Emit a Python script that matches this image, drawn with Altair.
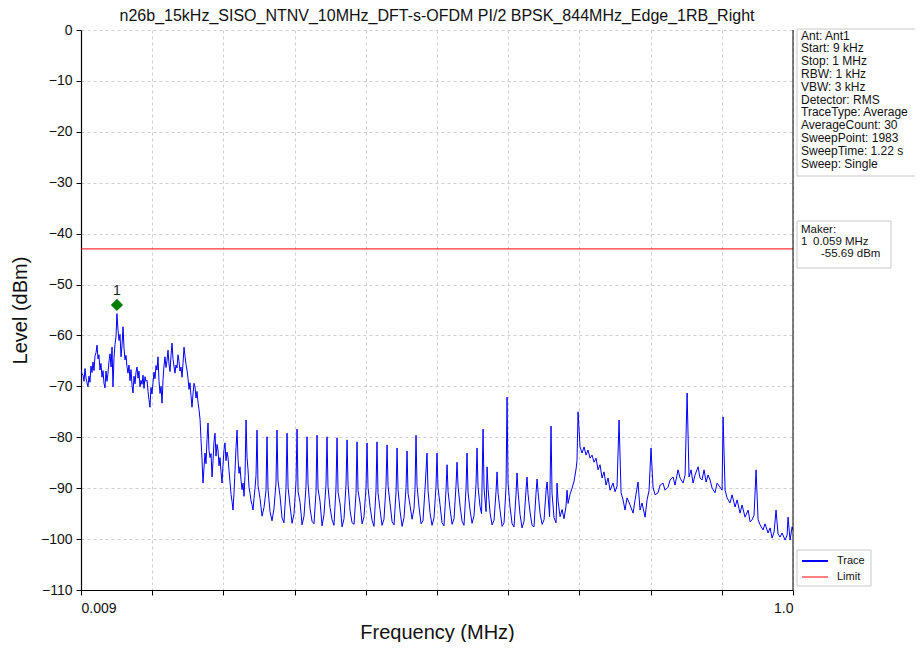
import altair as alt
import pandas as pd

chart_title = "n26b_15kHz_SISO_NTNV_10MHz_DFT-s-OFDM PI/2 BPSK_844MHz_Edge_1RB_Right"

# ---- trace (frequency in MHz, level in dBm) ----
freq_mhz = [
    0.0090, 0.0104, 0.0118, 0.0132, 0.0146, 0.0160, 0.0187, 0.0201, 0.0215, 0.0229,
    0.0243, 0.0257, 0.0271, 0.0285, 0.0299, 0.0313, 0.0327, 0.0340, 0.0354, 0.0368,
    0.0382, 0.0396, 0.0410, 0.0424, 0.0438, 0.0452, 0.0466, 0.0480, 0.0494, 0.0508,
    0.0522, 0.0535, 0.0549, 0.0563, 0.0577, 0.0590, 0.0605, 0.0619, 0.0633, 0.0647,
    0.0661, 0.0675, 0.0689, 0.0702, 0.0716, 0.0730, 0.0744, 0.0758, 0.0772, 0.0786,
    0.0800, 0.0814, 0.0828, 0.0842, 0.0856, 0.0870, 0.0884, 0.0897, 0.0911, 0.0925,
    0.0939, 0.0953, 0.0967, 0.0981, 0.0995, 0.1009, 0.1023, 0.1036, 0.1050, 0.1064,
    0.1078, 0.1092, 0.1106, 0.1120, 0.1134, 0.1148, 0.1162, 0.1176, 0.1190, 0.1204,
    0.1218, 0.1232, 0.1245, 0.1259, 0.1273, 0.1287, 0.1301, 0.1315, 0.1329, 0.1343,
    0.1357, 0.1371, 0.1384, 0.1398, 0.1412, 0.1426, 0.1440, 0.1454, 0.1468, 0.1482,
    0.1496, 0.1510, 0.1524, 0.1538, 0.1552, 0.1566, 0.1580, 0.1593, 0.1607, 0.1621,
    0.1635, 0.1649, 0.1663, 0.1677, 0.1691, 0.1705, 0.1719, 0.1733, 0.1747, 0.1760,
    0.1774, 0.1788, 0.1802, 0.1816, 0.1830, 0.1844, 0.1858, 0.1872, 0.1886, 0.1900,
    0.1914, 0.1928, 0.1941, 0.1955, 0.1969, 0.1983, 0.1997, 0.2011, 0.2025, 0.2039,
    0.2053, 0.2067, 0.2081, 0.2094, 0.2108, 0.2122, 0.2136, 0.2150, 0.2164, 0.2178,
    0.2192, 0.2206, 0.2220, 0.2234, 0.2248, 0.2262, 0.2276, 0.2290, 0.2303, 0.2317,
    0.2331, 0.2345, 0.2359, 0.2373, 0.2387, 0.2401, 0.2415, 0.2429, 0.2443, 0.2457,
    0.2470, 0.2484, 0.2498, 0.2512, 0.2526,
    0.2540, 0.2554, 0.2582, 0.2610, 0.2637, 0.2665,
    0.2679, 0.2693, 0.2721, 0.2749, 0.2776, 0.2804,
    0.2818, 0.2832, 0.2860, 0.2888, 0.2915, 0.2943,
    0.2958, 0.2972, 0.3000, 0.3028, 0.3055, 0.3083,
    0.3097, 0.3111, 0.3139, 0.3167, 0.3194, 0.3222,
    0.3236, 0.3250, 0.3278, 0.3306, 0.3333, 0.3361,
    0.3375, 0.3389, 0.3417, 0.3445, 0.3472, 0.3500,
    0.3514, 0.3528, 0.3556, 0.3584, 0.3611, 0.3639,
    0.3654, 0.3668, 0.3696, 0.3724, 0.3751, 0.3779,
    0.3793, 0.3807, 0.3835, 0.3863, 0.3890, 0.3918,
    0.3932, 0.3946, 0.3974, 0.4002, 0.4029, 0.4057,
    0.4071, 0.4085, 0.4113, 0.4141, 0.4168, 0.4196,
    0.4210, 0.4224, 0.4252, 0.4280, 0.4307, 0.4335,
    0.4350, 0.4364, 0.4392, 0.4420, 0.4447, 0.4475,
    0.4489, 0.4503, 0.4531, 0.4559, 0.4586, 0.4614,
    0.4628, 0.4642, 0.4670, 0.4698, 0.4725, 0.4739,
    0.4753, 0.4767, 0.4795, 0.4823, 0.4850, 0.4878,
    0.4906, 0.4920, 0.4948, 0.4976, 0.5003, 0.5031,
    0.5045, 0.5059, 0.5087, 0.5115, 0.5142, 0.5170,
    0.5185, 0.5199, 0.5227, 0.5255, 0.5282, 0.5310,
    0.5324, 0.5338, 0.5366, 0.5394, 0.5421, 0.5449,
    0.5463, 0.5477, 0.5505, 0.5533, 0.5560, 0.5588,
    0.5602, 0.5616, 0.5644, 0.5665, 0.5686, 0.5700, 0.5728,
    0.5742, 0.5756, 0.5784, 0.5812, 0.5839, 0.5867,
    0.5881, 0.5895, 0.5923, 0.5951, 0.5978, 0.6006,
    0.6020, 0.6034, 0.6062, 0.6090, 0.6117, 0.6145,
    0.6159, 0.6173, 0.6201, 0.6229, 0.6256, 0.6284,
    0.6298, 0.6312, 0.6340, 0.6368, 0.6395, 0.6423,
    0.6438, 0.6452, 0.6480, 0.6508, 0.6535, 0.6563,
    0.6577, 0.6591, 0.6612, 0.6632, 0.6646, 0.6674, 0.6702,
    0.6716, 0.6730, 0.6758, 0.6786, 0.6813, 0.6841,
    0.6855, 0.6869, 0.6897, 0.6925, 0.6953, 0.6981, 0.6994,
    0.7008, 0.7036, 0.7064, 0.7092, 0.7120, 0.7147, 0.7175, 0.7203, 0.7231, 0.7259,
    0.7287, 0.7314, 0.7342, 0.7370, 0.7398, 0.7426, 0.7454, 0.7495, 0.7523, 0.7551,
    0.7579, 0.7607, 0.7635, 0.7662, 0.7690, 0.7732, 0.7774, 0.7802, 0.7843, 0.7871,
    0.7899, 0.7941, 0.7969, 0.7997, 0.8024, 0.8052, 0.8080, 0.8122, 0.8150, 0.8191,
    0.8219, 0.8261, 0.8289, 0.8331, 0.8358, 0.8400, 0.8428, 0.8470, 0.8498, 0.8526,
    0.8553, 0.8581, 0.8609, 0.8637, 0.8679, 0.8706, 0.8734, 0.8762, 0.8790, 0.8818,
    0.8846, 0.8874, 0.8915, 0.8943, 0.8985, 0.9013, 0.9027, 0.9055, 0.9082, 0.9124,
    0.9152, 0.9194, 0.9222, 0.9263, 0.9291, 0.9333, 0.9375, 0.9403, 0.9430, 0.9458,
    0.9486, 0.9514, 0.9542, 0.9583, 0.9611, 0.9653, 0.9681, 0.9709, 0.9737, 0.9764,
    0.9792, 0.9820, 0.9848, 0.9890, 0.9918, 0.9931, 0.9959, 0.9987, 1.0000,
]

level_dbm = [
    -66.8, -67.5, -67.8, -69.0, -66.5, -68.4, -70.1, -68.0, -69.2, -66.0,
    -67.3, -65.2, -66.9, -64.0, -63.4, -61.9, -64.6, -63.8, -66.8, -65.5,
    -68.2, -66.9, -69.4, -70.3, -67.0, -69.0, -67.4, -65.0, -63.6, -66.2,
    -62.3, -70.1, -64.5, -61.8, -60.3, -55.7, -58.9, -61.0, -59.8, -64.2,
    -62.0, -58.3, -62.5, -64.8, -63.9, -66.1, -67.4, -65.8, -68.9, -66.7,
    -69.8, -71.3, -68.0, -69.5, -67.2, -66.2, -68.4, -67.0, -70.1, -68.8,
    -69.6, -67.8, -70.4, -68.1, -69.0, -68.8, -71.0, -72.6, -74.1, -70.2,
    -71.5, -69.3, -67.2, -68.5, -65.9, -66.8, -64.2, -69.0, -71.4, -70.0,
    -73.3, -68.6, -66.0, -64.2, -66.3, -65.0, -62.9, -65.6, -67.1, -63.9,
    -61.5, -64.7, -66.0, -67.4, -65.8, -66.4, -63.8, -65.1, -67.0, -66.2,
    -68.2, -65.5, -62.3, -64.1, -65.7, -66.8, -68.5, -70.6, -69.3, -71.8,
    -74.1, -71.5, -69.4, -70.1, -72.3, -71.0, -73.2, -74.6, -76.5, -80.3,
    -84.1, -89.0, -86.0, -83.1, -85.2, -80.4, -77.2, -82.6, -84.0, -83.2,
    -87.8, -84.5, -80.9, -79.2, -83.7, -81.4, -82.5, -85.6, -84.0, -86.8,
    -89.0, -85.3, -82.4, -81.1, -84.6, -82.9, -83.9, -86.5, -88.7, -91.2,
    -92.6, -94.3, -90.8, -86.4, -82.0, -78.6, -84.3, -87.1, -85.8, -88.4,
    -90.3, -89.0, -91.6, -87.5, -76.6, -84.0, -86.4, -89.9, -91.0, -92.5,
    -93.2, -94.3, -92.0, -90.0, -87.5,
    -78.6, -89.5, -92.0, -95.5, -93.8, -90.5,
    -79.9, -90.2, -94.6, -96.4, -94.0, -89.0,
    -78.6, -88.6, -91.5, -95.8, -96.8, -90.2,
    -79.2, -89.8, -93.5, -96.9, -95.0, -88.7,
    -78.4, -90.6, -92.8, -97.2, -95.5, -89.6,
    -79.9, -89.2, -94.0, -96.5, -97.0, -90.8,
    -79.6, -90.1, -92.6, -97.4, -95.2, -89.4,
    -79.9, -89.7, -93.8, -96.2, -97.3, -90.0,
    -80.1, -90.8, -93.1, -97.6, -96.0, -89.2,
    -80.5, -89.4, -94.4, -96.8, -97.1, -91.0,
    -80.9, -90.5, -92.9, -97.0, -95.6, -89.8,
    -81.1, -89.9, -93.6, -96.3, -97.5, -90.4,
    -80.9, -90.9, -94.2, -97.3, -96.1, -89.5,
    -81.5, -89.6, -93.0, -96.6, -97.2, -90.7,
    -82.1, -90.3, -94.5, -97.5, -95.8, -89.9,
    -82.7, -91.0, -93.4, -96.1, -94.0, -90.3,
    -79.6, -89.5, -93.7, -97.0, -96.4, -90.2,
    -83.1, -90.4, -94.8, -97.3, -95.9, -89.7,
    -83.1, -89.9, -93.2, -96.8, -97.4, -90.5,
    -85.4, -90.7, -94.1, -97.1, -96.0, -89.4,
    -84.9, -89.6, -93.5, -96.5, -97.3, -90.1,
    -83.1, -90.8, -94.3, -96.9, -95.4, -89.3,
    -82.1, -89.7, -93.6, -95.0, -78.4, -90.1, -94.6,
    -85.8, -90.2, -94.9, -97.2, -96.3, -90.6,
    -86.8, -91.0, -94.4, -97.5, -96.8, -89.8,
    -72.1, -89.0, -93.7, -97.0, -97.6, -91.2,
    -87.0, -90.6, -95.2, -97.8, -96.5, -90.3,
    -87.8, -91.1, -94.7, -97.3, -97.6, -91.0,
    -88.2, -90.8, -95.0, -97.1, -96.2, -90.5,
    -88.8, -91.5, -95.6, -77.8, -91.0, -95.8, -96.8,
    -89.0, -92.5, -95.6, -94.2, -96.0, -93.5,
    -90.4, -93.0, -91.2, -90.0, -88.6, -86.2, -84.5,
    -75.0, -81.9, -83.1, -81.9, -83.5, -82.5, -84.1, -83.5, -84.9, -84.1,
    -86.4, -85.4, -88.0, -86.8, -89.4, -88.0, -90.4, -89.0, -90.7, -89.6,
    -76.6, -90.9, -92.3, -94.3, -91.9, -93.3, -94.9, -92.3, -88.8, -94.3,
    -92.9, -95.7, -92.3, -90.4, -82.1, -89.8, -91.3, -90.9, -89.4, -89.0,
    -90.4, -89.8, -88.4, -87.8, -89.4, -86.4, -88.0, -89.0, -87.4, -71.3,
    -87.8, -86.4, -89.0, -87.4, -85.8, -88.0, -88.4, -86.4, -88.8, -87.4,
    -88.4, -90.0, -90.9, -89.0, -89.8, -90.4, -76.0, -90.4, -91.9, -92.9,
    -91.3, -93.7, -92.3, -94.9, -93.3, -95.7, -94.3, -96.6, -96.2, -95.3,
    -86.4, -96.2, -97.2, -98.2, -97.0, -98.8, -97.8, -99.8, -98.6, -94.3,
    -99.0, -99.6, -98.8, -100.2, -99.2, -95.7, -100.2, -97.6, -98.2,
]

limit_freq = [0.009, 1.0]
limit_level = [-43.0, -43.0]

marker_freq = [0.059]
marker_level = [-54.0]
marker_name = ["1"]

x_ticks = [0.009, 0.1081, 0.2072, 0.3063, 0.4054, 0.5045, 0.6036, 0.7027, 0.8018, 0.9009, 1.0]
y_ticks = [-110, -100, -90, -80, -70, -60, -50, -40, -30, -20, -10, 0]

info_lines = ["Ant: Ant1", "Start: 9 kHz", "Stop: 1 MHz", "RBW: 1 kHz", "VBW: 3 kHz",
              "Detector: RMS", "TraceType: Average", "AverageCount: 30",
              "SweepPoint: 1983", "SweepTime: 1.22 s", "Sweep: Single"]
marker_head = "Maker:"
marker_index = "1"
marker_freq_text = "0.059 MHz"
marker_level_text = "-55.69 dBm"
legend_names = ["Trace", "Limit"]
legend_colors = ["#0000ff", "#ff0000"]

FONT = "Liberation Sans"
TXT = "#111111"

trace_df = pd.DataFrame({"f": freq_mhz, "L": level_dbm})
limit_df = pd.DataFrame({"f": limit_freq, "L": limit_level})
marker_df = pd.DataFrame({"f": marker_freq, "L": marker_level, "name": marker_name})
one = pd.DataFrame({"k": [0]})

x_scale = alt.Scale(domain=[0.009, 1.0], nice=False, zero=False)
y_scale = alt.Scale(domain=[-110, 0], nice=False, zero=False)

x_axis = alt.Axis(
    values=x_ticks,
    labelExpr="datum.value == 0.009 ? '0.009' : (datum.value == 1 ? '1.0' : '')",
    title="Frequency (MHz)", titleFontSize=20, titleFontWeight="normal",
    titleX=356, titleY=42, titleBaseline="middle",
    labelFontSize=14, labelPadding=6, tickSize=5, grid=True,
)
y_axis = alt.Axis(
    values=y_ticks, format="d",
    title="Level (dBm)", titleFontSize=20, titleFontWeight="normal",
    titleX=-61, titleY=280, titleAngle=-90, titleBaseline="middle", titleAlign="center",
    labelFontSize=14, labelPadding=4, tickSize=5, grid=True,
)

trace = alt.Chart(trace_df).mark_line(color="#0000ff", strokeWidth=1, clip=True).encode(
    x=alt.X("f:Q", scale=x_scale, axis=x_axis),
    y=alt.Y("L:Q", scale=y_scale, axis=y_axis),
)

limit = alt.Chart(limit_df).mark_line(color="#ff0000", strokeWidth=1).encode(
    x=alt.X("f:Q", scale=x_scale), y=alt.Y("L:Q", scale=y_scale)
)

marker = alt.Chart(marker_df).mark_point(shape="diamond", filled=True, color="#008000",
                                         size=150, opacity=1).encode(
    x=alt.X("f:Q", scale=x_scale), y=alt.Y("L:Q", scale=y_scale)
)
marker_lbl = alt.Chart(marker_df).mark_text(font=FONT, fontSize=14, dy=-14, color="#222222").encode(
    x=alt.X("f:Q", scale=x_scale), y=alt.Y("L:Q", scale=y_scale), text="name:N"
)

title_mark = alt.Chart(one).mark_text(text=chart_title, font=FONT, fontSize=16, align="center",
                                      baseline="middle", color=TXT).encode(
    x=alt.value(356), y=alt.value(-14)
)

right_edge = alt.Chart(one).mark_rule(color="#000000", strokeWidth=1).encode(
    x=alt.value(712), y=alt.value(0), y2=alt.value(560)
)

# info box
info_box = alt.Chart(one).mark_rect(fill="white", stroke="#c8c8c8", strokeWidth=1).encode(
    x=alt.value(716), x2=alt.value(860), y=alt.value(-1), y2=alt.value(146)
)
info_text = alt.Chart(one).mark_text(
    text=info_lines, font=FONT, fontSize=12, lineHeight=12.8, align="left",
    baseline="top", color=TXT
).encode(x=alt.value(720), y=alt.value(0.5))

# marker box
mk_box = alt.Chart(one).mark_rect(fill="white", stroke="#c8c8c8", strokeWidth=1).encode(
    x=alt.value(716), x2=alt.value(810), y=alt.value(191), y2=alt.value(238)
)
mk_t1 = alt.Chart(one).mark_text(text=marker_head, font=FONT, fontSize=11.5, align="left",
                                 baseline="middle", color=TXT).encode(x=alt.value(720), y=alt.value(200))
mk_t2 = alt.Chart(one).mark_text(text=marker_index, font=FONT, fontSize=11.5, align="left",
                                 baseline="middle", color=TXT).encode(x=alt.value(720), y=alt.value(211.5))
mk_t3 = alt.Chart(one).mark_text(text=marker_freq_text, font=FONT, fontSize=11.5, align="left",
                                 baseline="middle", color=TXT).encode(x=alt.value(732), y=alt.value(211.5))
mk_t4 = alt.Chart(one).mark_text(text=marker_level_text, font=FONT, fontSize=11.5, align="left",
                                 baseline="middle", color=TXT).encode(x=alt.value(740), y=alt.value(223.5))

# legend box
lg_box = alt.Chart(one).mark_rect(fill="white", stroke="#c8c8c8", strokeWidth=1).encode(
    x=alt.value(716), x2=alt.value(790), y=alt.value(520), y2=alt.value(556)
)
lg_r1 = alt.Chart(one).mark_rule(color=legend_colors[0], strokeWidth=2).encode(
    x=alt.value(721), x2=alt.value(747), y=alt.value(531))
lg_r2 = alt.Chart(one).mark_rule(color=legend_colors[1], strokeWidth=1).encode(
    x=alt.value(721), x2=alt.value(747), y=alt.value(547))
lg_t1 = alt.Chart(one).mark_text(text=legend_names[0], font=FONT, fontSize=11, align="left",
                                 baseline="middle", color=TXT).encode(x=alt.value(756), y=alt.value(531))
lg_t2 = alt.Chart(one).mark_text(text=legend_names[1], font=FONT, fontSize=11, align="left",
                                 baseline="middle", color=TXT).encode(x=alt.value(756), y=alt.value(547))

chart = alt.layer(
    trace, limit, marker, marker_lbl, title_mark, right_edge,
    info_box, info_text, mk_box, mk_t1, mk_t2, mk_t3, mk_t4,
    lg_box, lg_r1, lg_r2, lg_t1, lg_t2,
).properties(
    width=712, height=560,
    autosize=alt.AutoSizeParams(type="none"),
    padding={"left": 73, "top": 22, "right": 122, "bottom": 52},
).configure_view(stroke=None).configure_axis(
    labelFont=FONT, titleFont=FONT, domainColor="#000000", tickColor="#000000",
    labelColor=TXT, titleColor=TXT, domainWidth=1.2,
    gridColor="#cfcfcf", gridDash=[3, 3], gridWidth=1,
)

chart.save("out.html", embed_options={"renderer": "svg", "actions": False})
